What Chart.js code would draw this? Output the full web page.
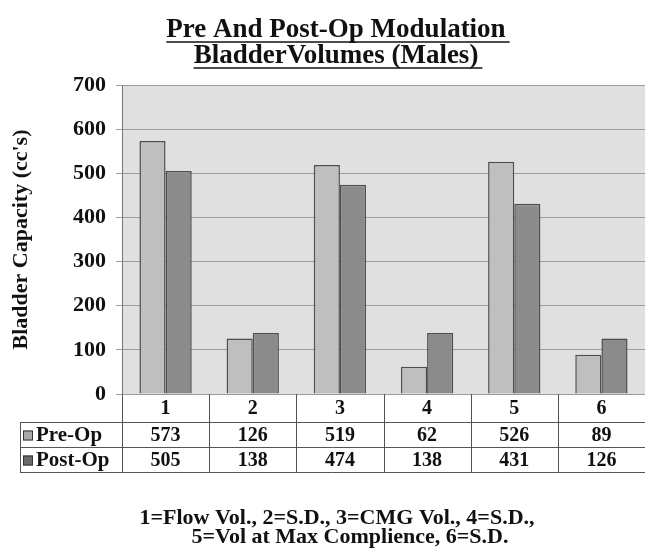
<!DOCTYPE html>
<html>
<head>
<meta charset="utf-8">
<script src="https://cdn.jsdelivr.net/npm/chart.js@4/dist/chart.umd.min.js"></script>
<style>
  html, body { margin: 0; padding: 0; background: #fff; }
  #wrap { width: 645px; height: 549px; position: relative; }
</style>
</head>
<body>
<div id="wrap"><canvas id="bladderChart"></canvas></div>
<script>
const categories = ['1', '2', '3', '4', '5', '6'];
const preOp = [573, 126, 519, 62, 526, 89];
const postOp = [505, 138, 474, 138, 431, 126];
const seriesNames = ['Pre-Op', 'Post-Op'];
const titleLines = ['Pre And Post-Op Modulation', 'BladderVolumes (Males)'];
const footnoteLines = ['1=Flow Vol., 2=S.D., 3=CMG Vol., 4=S.D.,', '5=Vol at Max Complience, 6=S.D.'];
const yTitle = "Bladder Capacity (cc's)";

const SERIF = '"Liberation Serif", "Times New Roman", serif';
const preColor = '#bfbfbf';
const postColor = '#8b8b8b';
const edgeColor = '#4d4d4d';

// fills the plot area grey before grid lines are drawn
const plotBackground = {
    id: 'plotBackground',
    beforeDraw(chart) {
        const { ctx, chartArea: a } = chart;
        ctx.save();
        ctx.fillStyle = '#e0e0e0';
        ctx.fillRect(a.left, a.top, a.right - a.left, a.bottom - a.top);
        ctx.restore();
    }
};

// title, data table under the plot and the footnote
const extras = {
    id: 'extras',
    afterDraw(chart) {
        const { ctx, chartArea: a } = chart;
        const xs = chart.scales.x;
        const n = categories.length;
        const colW = (a.right - a.left) / n;

        ctx.save();
        ctx.fillStyle = '#111';
        ctx.strokeStyle = '#111';
        ctx.textAlign = 'center';
        ctx.textBaseline = 'alphabetic';

        // title with underline
        ctx.font = 'bold 27px ' + SERIF;
        const titleY = [37, 63];
        titleLines.forEach((t, i) => {
            const cx = 336;
            ctx.fillText(t, cx, titleY[i]);
            const w = ctx.measureText(t).width;
            ctx.lineWidth = 1.5;
            ctx.beginPath();
            ctx.moveTo(cx - w / 2, titleY[i] + 5);
            ctx.lineTo(cx + w / 2 + 4, titleY[i] + 5);
            ctx.stroke();
        });

        // table
        const top = a.bottom;
        const rowH = [28, 25, 25];
        const r1 = top + rowH[0];
        const r2 = r1 + rowH[1];
        const r3 = r2 + rowH[2];
        const tableLeft = 20;

        ctx.strokeStyle = '#555';
        ctx.lineWidth = 1;
        ctx.beginPath();
        // horizontal lines
        [r1, r2, r3].forEach(y => {
            ctx.moveTo(tableLeft, y + 0.5);
            ctx.lineTo(a.right, y + 0.5);
        });
        // left border of the legend column
        ctx.moveTo(tableLeft + 0.5, r1);
        ctx.lineTo(tableLeft + 0.5, r3);
        // column separators
        for (let i = 0; i <= n; i++) {
            const x = Math.round(a.left + i * colW) + 0.5;
            ctx.moveTo(x, top);
            ctx.lineTo(x, r3);
        }
        ctx.stroke();

        ctx.fillStyle = '#111';
        ctx.font = 'bold 20px ' + SERIF;
        ctx.textBaseline = 'middle';
        categories.forEach((c, i) => {
            const cx = xs.getPixelForValue(i);
            ctx.fillText(c, cx, top + rowH[0] / 2 + 1);
            ctx.fillText(String(preOp[i]), cx, r1 + rowH[1] / 2 + 1);
            ctx.fillText(String(postOp[i]), cx, r2 + rowH[2] / 2 + 1);
        });

        // legend keys inside the table
        ctx.textAlign = 'left';
        ctx.font = 'bold 21px ' + SERIF;
        seriesNames.forEach((name, i) => {
            const yMid = (i === 0 ? r1 + rowH[1] / 2 : r2 + rowH[2] / 2) + 1;
            ctx.fillStyle = i === 0 ? '#a9a9a9' : '#6a6a6a';
            ctx.strokeStyle = '#333';
            ctx.fillRect(23, yMid - 5, 10, 10);
            ctx.strokeRect(23.5, yMid - 4.5, 9, 9);
            ctx.fillStyle = '#111';
            ctx.fillText(name, 36, yMid);
        });

        // footnote
        ctx.textAlign = 'center';
        ctx.textBaseline = 'alphabetic';
        ctx.font = 'bold 22px ' + SERIF;
        ctx.fillText(footnoteLines[0], 337, 524);
        ctx.fillText(footnoteLines[1], 350, 543);

        ctx.restore();
    }
};

const ctx = document.getElementById('bladderChart').getContext('2d');
new Chart(ctx, {
    type: 'bar',
    data: {
        labels: categories,
        datasets: [
            {
                label: seriesNames[0],
                data: preOp,
                backgroundColor: preColor,
                borderColor: edgeColor,
                borderWidth: 1.5
            },
            {
                label: seriesNames[1],
                data: postOp,
                backgroundColor: postColor,
                borderColor: edgeColor,
                borderWidth: 1.5
            }
        ]
    },
    options: {
        responsive: true,
        maintainAspectRatio: false,
        animation: false,
        categoryPercentage: 0.6,
        barPercentage: 1.0,
        layout: {
            padding: { top: 85, bottom: 155, left: 0, right: 0 }
        },
        scales: {
            x: {
                display: false
            },
            y: {
                min: 0,
                max: 700,
                ticks: {
                    stepSize: 100,
                    color: '#111',
                    padding: 10,
                    font: { family: SERIF, size: 22, weight: 'bold' }
                },
                grid: {
                    color: '#9c9c9c',
                    lineWidth: 1,
                    tickLength: 6
                },
                border: { display: true, color: '#777' },
                title: {
                    display: true,
                    text: yTitle,
                    color: '#111',
                    padding: { top: 8, bottom: 0 },
                    font: { family: SERIF, size: 22, weight: 'bold' }
                },
                afterFit(scale) {
                    scale.width = 122;
                }
            }
        },
        plugins: {
            legend: { display: false },
            tooltip: { enabled: false }
        }
    },
    plugins: [plotBackground, extras]
});
</script>
</body>
</html>
